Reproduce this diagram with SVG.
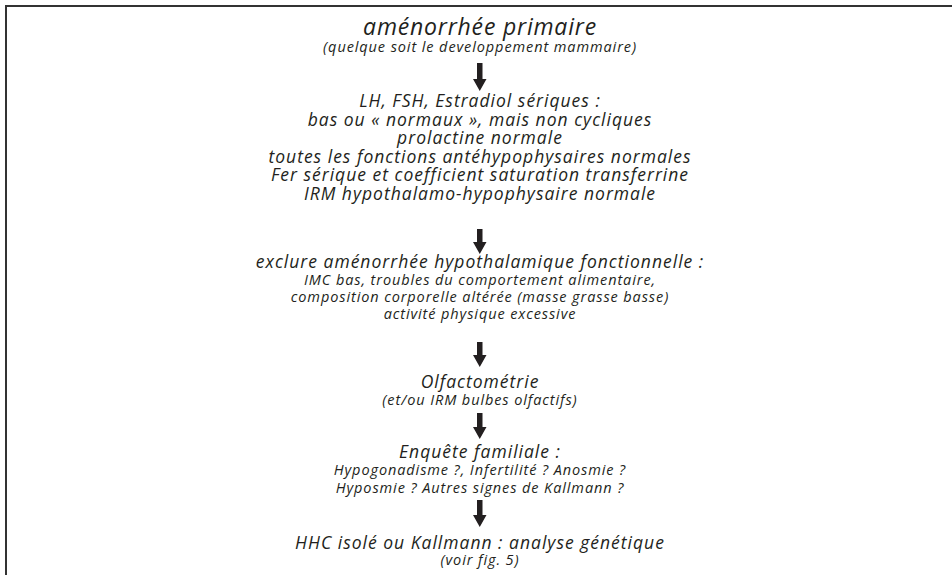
<svg xmlns="http://www.w3.org/2000/svg" width="952" height="575" viewBox="0 0 952 575">
<defs>
<style>
text{font-family:"Open Sans","Liberation Sans",sans-serif;font-style:italic;fill:#231f20;text-anchor:middle}
.t{font-size:23px;letter-spacing:0.8px}
.p{font-size:17.5px;letter-spacing:1px}
.s{font-size:14.5px;letter-spacing:0.9px}
.frame{fill:none;stroke:#333;stroke-width:2}
.arr{fill:#231f20}
</style>
</defs>
<rect width="952" height="575" fill="#fff"/>
<path class="frame" d="M6,575 V6 H952"/>

<g id="connectors" class="arr">
<path d="M477,63 H482.5 V79 H486.5 L479.75,91 L473,79 H477 Z"/>
<path d="M477,229 H482.5 V242 H486.5 L479.75,254 L473,242 H477 Z"/>
<path d="M477,342 H482.5 V355 H486.5 L479.75,367 L473,355 H477 Z"/>
<path d="M477,413 H482.5 V427 H486.5 L479.75,439 L473,427 H477 Z"/>
<path d="M477,500 H482.5 V515 H486.5 L479.75,527 L473,515 H477 Z"/>
</g>

<g id="n1">
<text class="t" x="480" y="35">aménorrhée primaire</text>
<text class="s" x="480" y="51.5">(quelque soit le developpement mammaire)</text>
</g>
<g id="n2">
<text class="p" x="480" y="107">LH, FSH, Estradiol sériques :</text>
<text class="p" x="480" y="125.6">bas ou « normaux », mais non cycliques</text>
<text class="p" x="480" y="144.2">prolactine normale</text>
<text class="p" x="480" y="162.8">toutes les fonctions antéhypophysaires normales</text>
<text class="p" x="480" y="181.4">Fer sérique et coefficient saturation transferrine</text>
<text class="p" x="480" y="200">IRM hypothalamo-hypophysaire normale</text>
</g>
<g id="n3">
<text class="p" x="480" y="268">exclure aménorrhée hypothalamique fonctionnelle :</text>
<text class="s" x="480" y="285">IMC bas, troubles du comportement alimentaire,</text>
<text class="s" x="480" y="302">composition corporelle altérée (masse grasse basse)</text>
<text class="s" x="480" y="319">activité physique excessive</text>
</g>
<g id="n4">
<text class="p" x="480" y="388">Olfactométrie</text>
<text class="s" x="480" y="405">(et/ou IRM bulbes olfactifs)</text>
</g>
<g id="n5">
<text class="p" x="480" y="458">Enquête familiale :</text>
<text class="s" x="480" y="475">Hypogonadisme ?, Infertilité ? Anosmie ?</text>
<text class="s" x="480" y="493">Hyposmie ? Autres signes de Kallmann ?</text>
</g>
<g id="n6">
<text class="p" x="480" y="549">HHC isolé ou Kallmann : analyse génétique</text>
<text class="s" x="480" y="565">(voir fig. 5)</text>
</g>
</svg>
